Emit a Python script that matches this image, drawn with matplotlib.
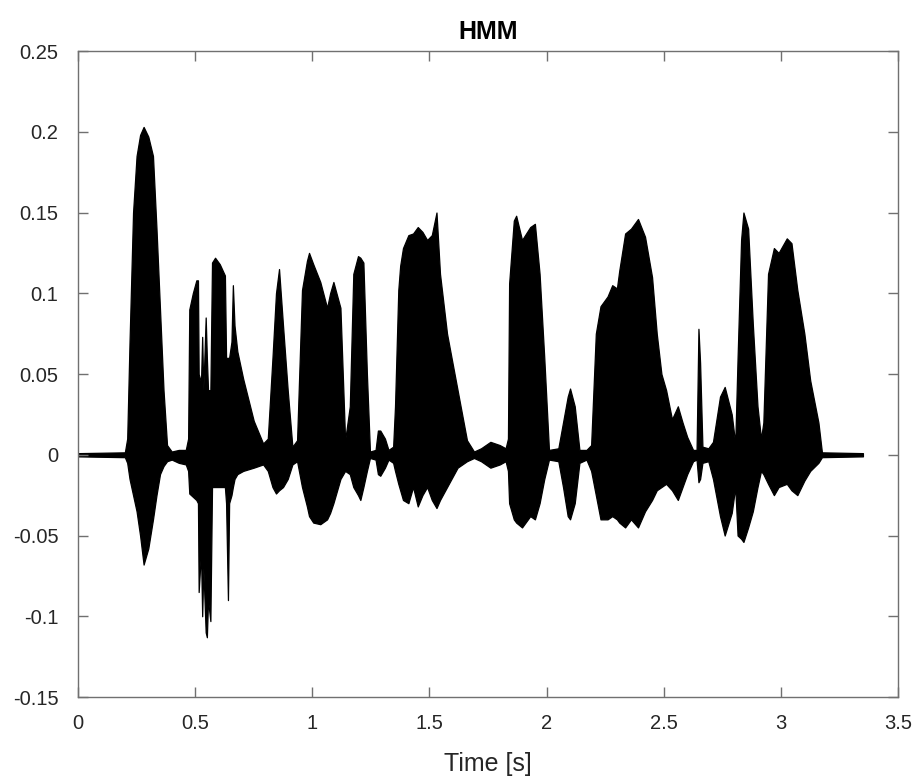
import matplotlib.pyplot as plt

# Envelope of the waveform (time in s, upper / lower amplitude)
tempo = [0.00, 0.20, 0.21, 0.22, 0.235, 0.25, 0.265, 0.28, 0.30, 0.32, 0.335, 0.35, 0.365, 0.38,
         0.40, 0.43, 0.46, 0.47, 0.475, 0.49, 0.505, 0.512, 0.515, 0.525, 0.53, 0.535, 0.545, 0.55,
         0.555, 0.565, 0.572, 0.585, 0.605, 0.627, 0.632, 0.64, 0.645, 0.655, 0.661, 0.668, 0.68,
         0.705, 0.75, 0.79, 0.81, 0.83, 0.845, 0.858, 0.875, 0.895, 0.915, 0.935, 0.956, 0.977,
         0.986, 1.004, 1.034, 1.063, 1.076, 1.09, 1.12, 1.14, 1.16, 1.175, 1.195, 1.205, 1.218,
         1.233, 1.246, 1.27, 1.28, 1.29, 1.31, 1.325, 1.345, 1.353, 1.367, 1.375, 1.387, 1.41,
         1.43, 1.45, 1.47, 1.49, 1.51, 1.53, 1.545, 1.575, 1.62, 1.66, 1.69, 1.72, 1.76, 1.80,
         1.825, 1.835, 1.84, 1.86, 1.87, 1.895, 1.93, 1.95, 1.97, 1.99, 2.01, 2.05, 2.07, 2.09,
         2.10, 2.12, 2.14, 2.17, 2.19, 2.21, 2.23, 2.26, 2.28, 2.30, 2.31, 2.335, 2.36, 2.39,
         2.42, 2.45, 2.47, 2.49, 2.51, 2.535, 2.56, 2.58, 2.60, 2.625, 2.64, 2.648, 2.655, 2.665,
         2.69, 2.71, 2.74, 2.76, 2.79, 2.805, 2.815, 2.83, 2.84, 2.86, 2.88, 2.90, 2.915, 2.925,
         2.945, 2.97, 2.99, 3.025, 3.045, 3.07, 3.10, 3.125, 3.16, 3.175, 3.35]
sup = [0.001, 0.0015, 0.01, 0.07, 0.15, 0.185, 0.198, 0.203, 0.197, 0.185, 0.14, 0.09, 0.04, 0.006,
       0.002, 0.003, 0.003, 0.01, 0.09, 0.10, 0.108, 0.108, 0.05, 0.045, 0.073, 0.04, 0.085, 0.06,
       0.04, 0.04, 0.119, 0.122, 0.118, 0.111, 0.06, 0.06, 0.06, 0.07, 0.105, 0.08, 0.064,
       0.047, 0.021, 0.007, 0.01, 0.06, 0.10, 0.115, 0.08, 0.04, 0.005, 0.009, 0.102, 0.12,
       0.125, 0.118, 0.107, 0.091, 0.10, 0.107, 0.091, 0.009, 0.03, 0.112, 0.123, 0.122, 0.119,
       0.05, 0.002, 0.003, 0.015, 0.015, 0.01, 0.003, 0.005, 0.03, 0.102, 0.117, 0.128, 0.136,
       0.137, 0.141, 0.138, 0.133, 0.136, 0.15, 0.112, 0.075, 0.04, 0.009, 0.002, 0.004, 0.008, 0.006,
       0.004, 0.01, 0.106, 0.145, 0.148, 0.133, 0.141, 0.143, 0.112, 0.06, 0.003, 0.004, 0.02, 0.036,
       0.041, 0.03, 0.003, 0.003, 0.006, 0.075, 0.092, 0.098, 0.105, 0.103, 0.114, 0.137, 0.14, 0.146,
       0.135, 0.11, 0.075, 0.05, 0.04, 0.022, 0.03, 0.02, 0.011, 0.003, 0.003, 0.078, 0.057, 0.005,
       0.004, 0.008, 0.036, 0.042, 0.025, 0.007, 0.06, 0.133, 0.15, 0.14, 0.081, 0.03, 0.01, 0.02,
       0.112, 0.128, 0.125, 0.134, 0.131, 0.102, 0.075, 0.046, 0.02, 0.0015, 0.001]
inf = [-0.001, -0.0015, -0.005, -0.015, -0.025, -0.035, -0.05, -0.068, -0.058, -0.04, -0.025, -0.012, -0.007, -0.004,
       -0.003, -0.005, -0.006, -0.01, -0.024, -0.026, -0.028, -0.03, -0.085, -0.06, -0.10, -0.07, -0.11, -0.113,
       -0.09, -0.103, -0.02, -0.02, -0.02, -0.02, -0.03, -0.09, -0.03, -0.025, -0.02, -0.015, -0.012,
       -0.01, -0.008, -0.006, -0.01, -0.02, -0.024, -0.022, -0.02, -0.015, -0.006, -0.004, -0.02, -0.032,
       -0.038, -0.042, -0.043, -0.04, -0.036, -0.03, -0.015, -0.01, -0.012, -0.02, -0.025, -0.028, -0.02,
       -0.01, -0.002, -0.003, -0.012, -0.013, -0.008, -0.003, -0.005, -0.01, -0.018, -0.022, -0.028, -0.03,
       -0.02, -0.032, -0.025, -0.02, -0.028, -0.033, -0.028, -0.02, -0.008, -0.004, -0.002, -0.004, -0.008, -0.006,
       -0.004, -0.01, -0.03, -0.04, -0.042, -0.045, -0.038, -0.04, -0.03, -0.015, -0.003, -0.004, -0.02, -0.038,
       -0.04, -0.03, -0.005, -0.003, -0.01, -0.025, -0.04, -0.04, -0.038, -0.04, -0.042, -0.045, -0.04, -0.045,
       -0.035, -0.028, -0.022, -0.02, -0.018, -0.022, -0.028, -0.02, -0.012, -0.004, -0.003, -0.017, -0.015, -0.005,
       -0.004, -0.015, -0.038, -0.05, -0.036, -0.02, -0.05, -0.052, -0.054, -0.045, -0.035, -0.02, -0.01, -0.012,
       -0.018, -0.025, -0.02, -0.018, -0.022, -0.025, -0.016, -0.01, -0.005, -0.0015, -0.001]

xticks = [0, 0.5, 1, 1.5, 2, 2.5, 3, 3.5]
yticks = [-0.15, -0.1, -0.05, 0, 0.05, 0.1, 0.15, 0.2, 0.25]
xlabels = ['0', '0.5', '1', '1.5', '2', '2.5', '3', '3.5']
ylabels = ['-0.15', '-0.1', '-0.05', '0', '0.05', '0.1', '0.15', '0.2', '0.25']

plt.rcParams['font.family'] = ['Liberation Sans', 'DejaVu Sans']

fig = plt.figure(figsize=(9.23, 7.8), dpi=100)
ax = fig.add_axes([0.0845, 0.1064, 0.8885, 0.8282])

ax.fill_between(tempo, inf, sup, facecolor='black', edgecolor='black', linewidth=0.9)

ax.set_xlim(0, 3.5)
ax.set_ylim(-0.15, 0.25)
ax.set_xticks(xticks)
ax.set_xticklabels(xlabels)
ax.set_yticks(yticks)
ax.set_yticklabels(ylabels)

cinza = '#262626'
for s in ax.spines.values():
    s.set_color('#707070')
    s.set_linewidth(1.0)
ax.tick_params(direction='in', top=True, right=True, length=7, width=1.0,
               color='#707070', labelcolor=cinza, labelsize=14.5)
ax.tick_params(axis='x', pad=12)
ax.tick_params(axis='y', pad=14)

ax.set_xlabel('Time [s]', fontsize=18, color=cinza, labelpad=14)
ax.set_title('HMM', fontsize=18, fontweight='bold', color='black', pad=9)

fig.savefig('out.png', dpi=100)
